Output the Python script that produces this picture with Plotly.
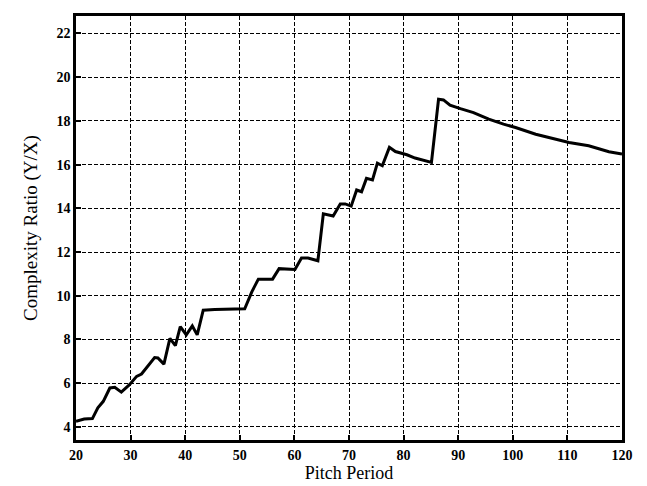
import plotly.graph_objects as go

pitch = [20, 21.5, 23, 24, 25, 26.2, 27.1, 28.3, 29.8, 31.1, 32, 33.2, 34.4, 35, 36.1,
         37.2, 38.2, 39.1, 40.2, 41.3, 42.2, 43.3, 45.4, 50.9, 52.2, 53.4, 56, 57.2,
         60.1, 61.3, 62.5, 64.3, 65.3, 67.1, 68.4, 69.3, 70.4, 71.4, 72.3, 73.2, 74.3,
         75.2, 76.1, 77.4, 78.5, 80.6, 82.1, 85.1, 86.4, 87.3, 88.5, 90.4, 92.8, 95.6,
         98.3, 100.5, 104.2, 106.6, 110.3, 113.9, 117.6, 120]
ratio = [4.26, 4.36, 4.38, 4.87, 5.17, 5.78, 5.81, 5.59, 5.93, 6.31, 6.42, 6.77, 7.17,
         7.15, 6.87, 8.05, 7.72, 8.59, 8.21, 8.62, 8.21, 9.34, 9.37, 9.4, 10.18, 10.76,
         10.76, 11.24, 11.2, 11.73, 11.73, 11.6, 13.75, 13.65, 14.2, 14.2, 14.1, 14.84,
         14.76, 15.37, 15.3, 16.07, 15.95, 16.79, 16.6, 16.45, 16.3, 16.1, 18.99, 18.96,
         18.72, 18.56, 18.38, 18.08, 17.85, 17.7, 17.39, 17.24, 17.01, 16.86, 16.59, 16.48]

x_ticks = [20, 30, 40, 50, 60, 70, 80, 90, 100, 110, 120]
y_ticks = [4, 6, 8, 10, 12, 14, 16, 18, 20, 22]

fig = go.Figure()
fig.add_trace(go.Scatter(x=pitch, y=ratio, mode="lines",
                         line=dict(color="black", width=3), showlegend=False))

font_family = "Liberation Serif, Times New Roman, serif"
axis_common = dict(
    showline=True, linecolor="black", linewidth=2.5, mirror=True,
    showgrid=True, gridcolor="black", gridwidth=1.1, griddash="4px,2px",
    ticks="inside", ticklen=5, tickcolor="black", tickwidth=1.5,
    zeroline=False,
    tickfont=dict(family=font_family, size=14, color="black", weight="bold"),
)

fig.update_layout(
    width=647, height=486,
    margin=dict(l=68, r=33, t=5, b=54),
    paper_bgcolor="white", plot_bgcolor="white",
    font=dict(family=font_family, color="black"),
)
fig.update_xaxes(range=[20, 120], tickvals=x_ticks,
                 title=dict(text="Pitch Period", font=dict(family=font_family, size=18, color="black"), standoff=5),
                 **axis_common)
fig.update_yaxes(range=[3.4, 22.8], tickvals=y_ticks,
                 title=dict(text="Complexity Ratio (Y/X)", font=dict(family=font_family, size=19, color="black"), standoff=14),
                 **axis_common)

fig.write_html("out.html")
